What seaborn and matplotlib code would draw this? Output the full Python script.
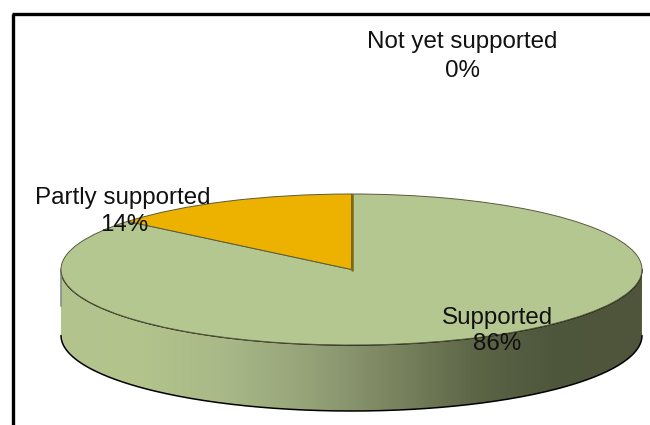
import numpy as np
import matplotlib
matplotlib.use("Agg")
import matplotlib.pyplot as plt
import seaborn as sns
from matplotlib.patches import PathPatch
from matplotlib.path import Path

categories = ["Supported", "Partly supported", "Not yet supported"]
shares = [86, 14, 0]
slice_colors = ["#b5c791", "#edb200", "#9bbb59"]
wall_colors = ["#b4c48e", "#b2c38c", "#a8b887", "#95a278", "#7a8560", "#5d6547", "#4d553b", "#50563c"]

# where each label sits, in image pixels
label_x = [497, 123, 462]
label_y = [318, 198, 42]
pct_x = [497, 124, 462]
pct_y = [344, 225, 71]

sns.set_theme(style="white")
plt.rcParams["font.family"] = ["Liberation Sans", "DejaVu Sans"]

fig = plt.figure(figsize=(6.5, 4.25), dpi=100, facecolor="white")

# background axes works in image pixels
bg = fig.add_axes([0, 0, 1, 1])
bg.set_xlim(0, 650)
bg.set_ylim(425, 0)
bg.axis("off")

# chart frame, only top and left are visible
bg.plot([13, 13], [425, 14], color="black", lw=2.4, solid_capstyle="butt")
bg.plot([11.8, 650], [14, 14], color="black", lw=2.4, solid_capstyle="butt")

# ellipse of the top face
cx, cy, rx, ry = 351.5, 269.5, 290.5, 75.5
depth = 66

# side wall with horizontal gradient
t = np.linspace(np.pi, 0, 300)
top_x = cx + rx * np.cos(t)
top_y = cy + ry * np.sin(t)
wall_xy = np.vstack([
    np.column_stack([top_x, top_y]),
    np.column_stack([top_x[::-1], top_y[::-1] + depth]),
])
wall = PathPatch(Path(np.vstack([wall_xy, wall_xy[0]])), facecolor="none",
                 edgecolor="none", zorder=3)
bg.add_patch(wall)
cmap = sns.blend_palette(wall_colors, as_cmap=True)
grad = bg.imshow(np.linspace(0, 1, 400).reshape(1, -1), cmap=cmap, aspect="auto",
                 extent=[cx - rx, cx + rx, cy + ry + depth, cy], zorder=2)
grad.set_clip_path(wall)
bg.plot(top_x, top_y + depth, color="black", lw=1.1, zorder=4)
bg.plot(top_x, top_y, color="black", lw=1.1, zorder=4)
bg.plot([cx - rx, cx - rx], [cy, cy + 36], color="#8a8a8a", lw=1.2, zorder=4)
bg.set_xlim(0, 650)
bg.set_ylim(425, 0)

# top face
pie_ax = fig.add_axes([(cx - rx) / 650, (425 - cy - ry) / 425, 2 * rx / 650, 2 * ry / 425])
pie_ax.patch.set_alpha(0)
pie_ax.pie(shares, colors=slice_colors, startangle=90, counterclock=False, radius=1,
           wedgeprops={"edgecolor": "#5a5a3c", "linewidth": 0.7})
pie_ax.set_aspect("auto")
pie_ax.set_xlim(-1, 1)
pie_ax.set_ylim(-1, 1)
pie_ax.plot([0.002, 0.002], [0, 1], color="#7d6a10", lw=1.8, zorder=5)

# labels on top of everything
txt = fig.add_axes([0, 0, 1, 1])
txt.set_xlim(0, 650)
txt.set_ylim(425, 0)
txt.axis("off")
txt.patch.set_alpha(0)
for name, share, lx, ly, px, py in zip(categories, shares, label_x, label_y, pct_x, pct_y):
    txt.text(lx, ly, name, ha="center", va="center", fontsize=17.4, color="#111111")
    txt.text(px, py, f"{share}%", ha="center", va="center", fontsize=17.4, color="#111111")

fig.savefig("out.png", dpi=100)
